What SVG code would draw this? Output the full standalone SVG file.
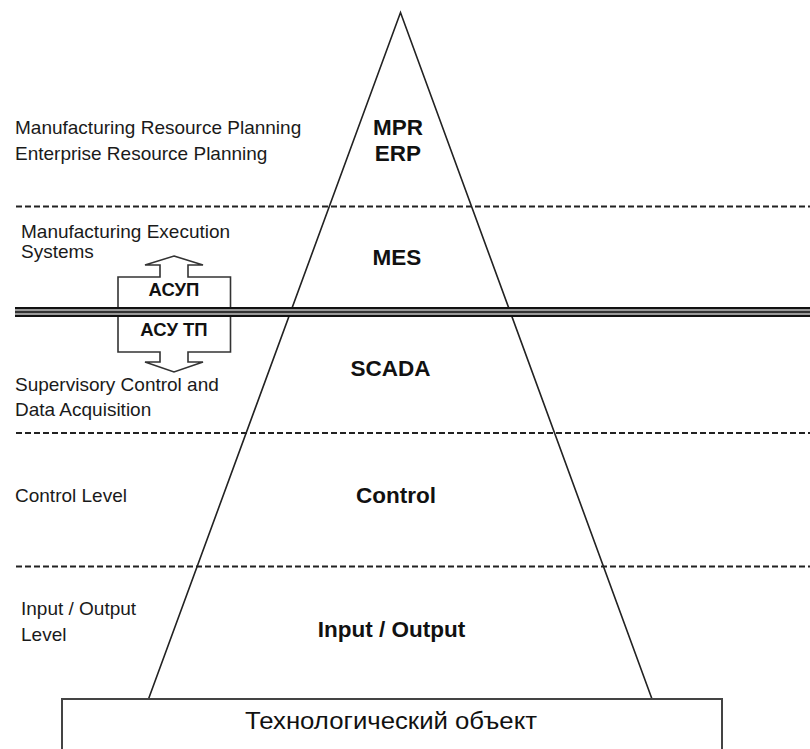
<svg xmlns="http://www.w3.org/2000/svg" width="810" height="749" viewBox="0 0 810 749">
<style>
.lbl{font-family:"Liberation Sans",Arial,sans-serif;font-size:19px;fill:#1a1a1a}
.lvl{font-family:"Liberation Sans",Arial,sans-serif;font-size:22.5px;font-weight:bold;fill:#111;text-anchor:middle}
.asu{font-family:"Liberation Sans",Arial,sans-serif;font-size:18.5px;font-weight:bold;fill:#111;text-anchor:middle}
.dash{stroke:#222;stroke-width:2;stroke-dasharray:6 3;fill:none}
.edge{stroke:#222;stroke-width:1.6;fill:none}
</style>
<rect width="810" height="749" fill="#fff"/>
<g id="separators">
<line class="dash" x1="16" y1="206.5" x2="810" y2="206.5"/>
<line class="dash" x1="16" y1="433" x2="810" y2="433"/>
<line class="dash" x1="16" y1="566.5" x2="810" y2="566.5"/>
</g>
<g id="pyramid">
<polyline class="edge" points="148.5,699 400.5,12.5 652,699"/>
</g>
<g id="asu-arrow">
<path d="M174 256 L203 265 L188 265 L188 277 L230.5 277 L230.5 352 L188 352 L188 362 L203 362 L174 372 L145 362 L160 362 L160 352 L118 352 L118 277 L160 277 L160 265 L145 265 Z" fill="#fff" stroke="#333" stroke-width="1.6"/>
<text class="asu" x="174" y="296">АСУП</text>
<text class="asu" x="174" y="336">АСУ ТП</text>
</g>
<g id="boundary">
<rect x="15" y="307" width="795" height="10" fill="#999"/>
<line x1="15" y1="308" x2="810" y2="308" stroke="#111" stroke-width="2"/>
<line x1="15" y1="312" x2="810" y2="312" stroke="#111" stroke-width="1.5"/>
<line x1="15" y1="316" x2="810" y2="316" stroke="#111" stroke-width="2"/>
</g>
<g id="level-erp">
<text class="lbl" x="15" y="134">Manufacturing Resource Planning</text>
<text class="lbl" x="15" y="160">Enterprise Resource Planning</text>
<text class="lvl" x="398" y="135">MPR</text>
<text class="lvl" x="398" y="161">ERP</text>
</g>
<g id="level-mes">
<text class="lbl" x="21" y="238">Manufacturing Execution</text>
<text class="lbl" x="21" y="258">Systems</text>
<text class="lvl" x="397" y="265">MES</text>
</g>
<g id="level-scada">
<text class="lbl" x="15" y="391">Supervisory Control and</text>
<text class="lbl" x="15" y="416">Data Acquisition</text>
<text class="lvl" x="390.5" y="376">SCADA</text>
</g>
<g id="level-control">
<text class="lbl" x="15" y="502">Control Level</text>
<text class="lvl" x="396" y="503">Control</text>
</g>
<g id="level-io">
<text class="lbl" x="21" y="615">Input / Output</text>
<text class="lbl" x="21" y="641">Level</text>
<text class="lvl" x="391.5" y="637">Input / Output</text>
</g>
<g id="tech-object">
<rect x="62" y="699" width="660" height="60" fill="#fff" stroke="#444" stroke-width="2"/>
<text x="391" y="729" font-family="'Liberation Sans',Arial,sans-serif" font-size="24" fill="#111" text-anchor="middle" textLength="292" lengthAdjust="spacingAndGlyphs">Технологический объект</text>
</g>
</svg>
